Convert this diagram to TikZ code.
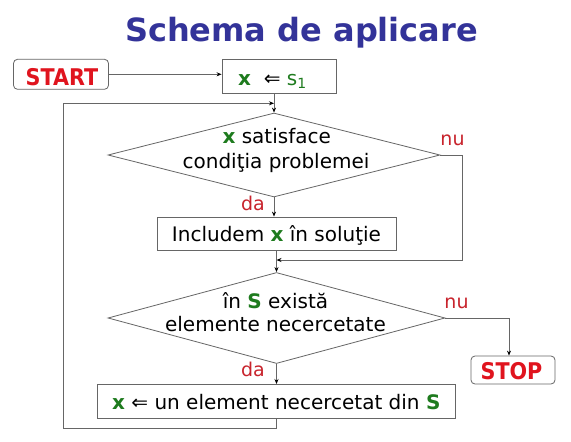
\documentclass[tikz,border=0pt]{standalone}
\usepackage{fontspec}
\setmainfont{DejaVu Sans}
\newfontfamily\termfont{DejaVu Sans}[FakeStretch=0.9]
\usetikzlibrary{shapes.geometric,arrows.meta}
\definecolor{ttl}{HTML}{333399}
\definecolor{grn}{HTML}{1E7B1E}
\definecolor{rd}{HTML}{E0141E}
\definecolor{lbl}{HTML}{C8232C}
\definecolor{ln}{HTML}{666666}
\newcommand{\gx}{\textcolor{grn}{\textbf{x}}}
\newcommand{\gS}{\textcolor{grn}{\textbf{S}}}
\begin{document}
\begin{tikzpicture}[x=1pt,y=-1pt,
  box/.style={draw=ln, line width=0.8pt, rectangle, inner sep=0pt},
  term/.style={draw=ln, line width=0.8pt, rectangle, rounded corners=4pt, inner sep=0pt},
  dec/.style={draw=ln, line width=0.8pt, diamond, inner sep=0pt},
  txt/.style={font=\fontsize{20}{24}\selectfont, anchor=base, inner sep=0pt},
  ttxt/.style={font=\termfont\bfseries\fontsize{23}{26}\selectfont, text=rd, anchor=base, inner sep=0pt},
  lab/.style={font=\fontsize{19}{22}\selectfont, text=lbl, anchor=base, inner sep=0pt},
  arr/.style={draw=ln, line width=0.8pt, -{Stealth[length=5pt,width=4pt,color=black]}},
  con/.style={draw=ln, line width=0.8pt}]
\useasboundingbox (0,0) rectangle (571,442);
\fill[white] (0,0) rectangle (571,442);

% title
\node[anchor=base, inner sep=0pt, text=ttl, font=\bfseries\fontsize{32}{36}\selectfont] (title) at (301.5,41.7) {Schema de aplicare};

% shapes
\node[term, minimum width=95pt, minimum height=30pt] (start) at (61,74.3) {};
\node[ttxt] (startt) at (62,85) {START};
\node[box, minimum width=114pt, minimum height=34pt] (b1) at (279,76) {};
\node[txt] (b1t) at (272.5,85) {\gx\ \ ⇐ \textcolor{grn}{s\textsubscript{1}}};
\node[dec, minimum width=332pt, minimum height=84pt] (d1) at (274,155) {};
\node[txt] (d1a) at (276.7,143) {\gx\ satisface};
\node[txt] (d1b) at (276,168) {condiţia problemei};
\node[box, minimum width=239pt, minimum height=33pt] (b2) at (276.5,233.5) {};
\node[txt] (b2t) at (276.5,241.5) {Includem \gx\ în soluţie};
\node[dec, minimum width=337pt, minimum height=91pt] (d2) at (276.5,318) {};
\node[txt] (d2a) at (275.5,308.3) {în \gS\ există};
\node[txt] (d2b) at (275.5,331.7) {elemente necercetate};
\node[box, minimum width=358pt, minimum height=34pt] (b3) at (276.7,401.4) {};
\node[txt] (b3t) at (276.3,409.3) {\gx\ ⇐ un element necercetat din \gS};
\node[term, minimum width=84pt, minimum height=28pt] (stop) at (513,370) {};
\node[ttxt] (stopt) at (511.5,379.3) {STOP};

% labels
\node[lab] (nu1) at (452.5,145) {nu};
\node[lab] (da1) at (253,210) {da};
\node[lab] (nu2) at (456.5,308.3) {nu};
\node[lab] (da2) at (253,376.7) {da};

% connectors
\coordinate (nuc) at (462,260);
\coordinate (lpb) at (63,428);
\coordinate (lpt) at (63,103.3);
\draw[arr] (start.east) -- (start.east -| b1.west);
\draw[arr] (d1.north |- b1.south) -- (d1.north);
\draw[arr] (d1.south) -- (d1.south |- b2.north);
\draw[arr] (d1.east) -| (nuc) -- (nuc -| d2.north);
\draw[arr] (d2.north |- b2.south) -- (d2.north);
\draw[arr] (d2.east) -| ([xshift=-4pt]stop.north);
\draw[arr] (d2.south) -- (d2.south |- b3.north);
\draw[arr] (b3.south) -- (b3.south |- lpb) -- (lpb) -- (lpt) -- (lpt -| d1.north);
\end{tikzpicture}
\end{document}
